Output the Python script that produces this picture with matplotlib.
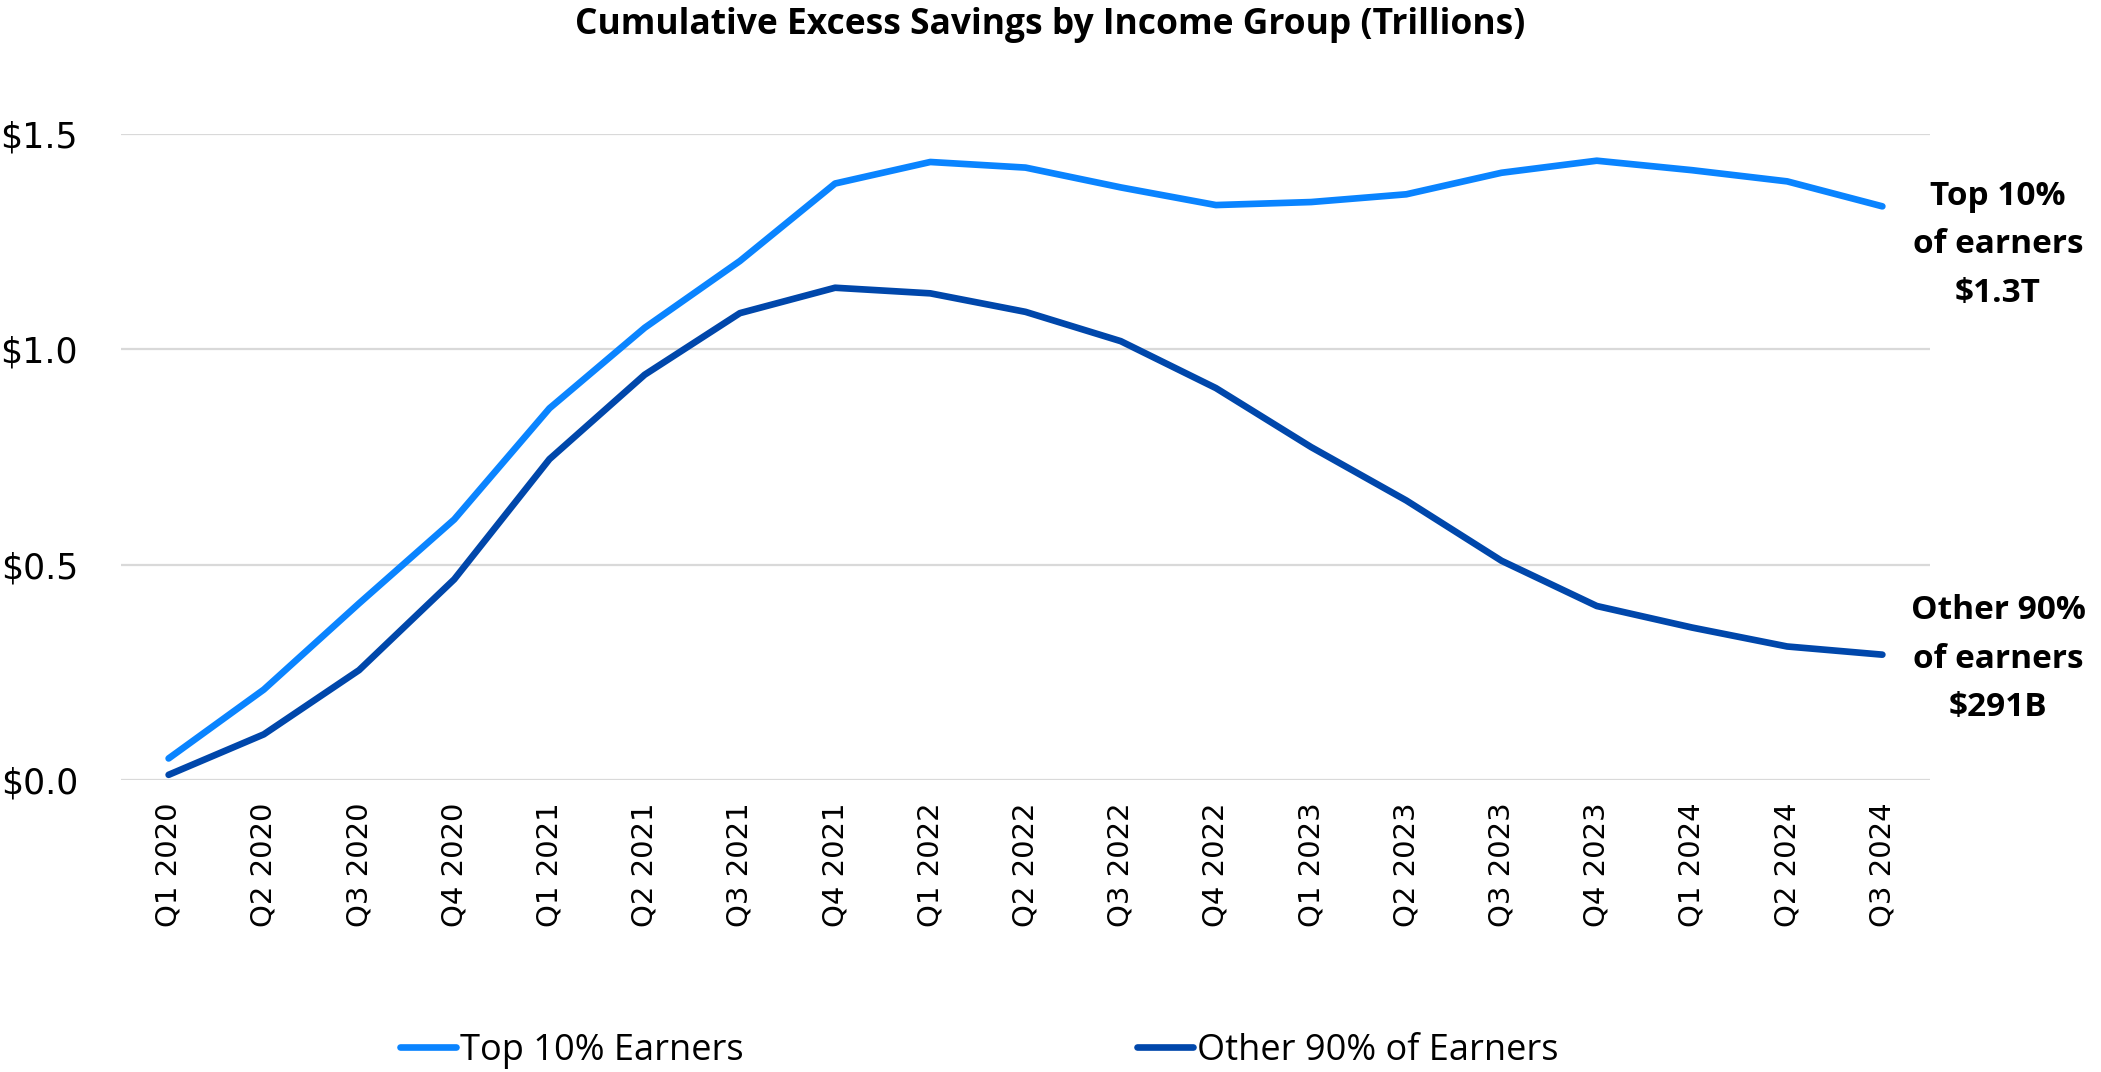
import matplotlib.pyplot as plt
import numpy as np

quarters = ['Q1 2020', 'Q2 2020', 'Q3 2020', 'Q4 2020',
            'Q1 2021', 'Q2 2021', 'Q3 2021', 'Q4 2021',
            'Q1 2022', 'Q2 2022', 'Q3 2022', 'Q4 2022',
            'Q1 2023', 'Q2 2023', 'Q3 2023', 'Q4 2023',
            'Q1 2024', 'Q2 2024', 'Q3 2024']

top10 = [0.05, 0.21, 0.41, 0.605, 0.863, 1.05, 1.205, 1.385, 1.435, 1.422,
         1.376, 1.335, 1.342, 1.36, 1.41, 1.438, 1.416, 1.39, 1.332]

other90 = [0.012, 0.106, 0.255, 0.466, 0.745, 0.941, 1.084, 1.143, 1.13, 1.087,
           1.019, 0.91, 0.773, 0.649, 0.509, 0.404, 0.354, 0.31, 0.291]

y_ticks = [0.0, 0.5, 1.0, 1.5]

color_top = '#0a84ff'
color_other = '#0047ab'

fig = plt.figure(figsize=(21.01, 10.72), dpi=100)
ax = fig.add_axes([0.0576, 0.2724, 0.861, 0.6026])

x = np.arange(len(quarters))
ax.plot(x, top10, color=color_top, linewidth=4.8, solid_capstyle='round',
        label='Top 10% Earners', zorder=3, clip_on=False)
ax.plot(x, other90, color=color_other, linewidth=4.8, solid_capstyle='round',
        label='Other 90% of Earners', zorder=3, clip_on=False)

ax.set_xlim(-0.5, len(quarters) - 0.5)
ax.set_ylim(0, 1.5)
ax.set_yticks(y_ticks)
ax.set_yticklabels(['${:.1f}'.format(v) for v in y_ticks])
ax.set_xticks(x)
ax.set_xticklabels(quarters, rotation=90)
ax.tick_params(axis='x', length=0, pad=16, labelsize=21)
ax.tick_params(axis='y', length=0, pad=31, labelsize=25)
ax.yaxis.grid(True, color='#d9d9d9', linewidth=1.6)
ax.set_axisbelow(True)
for s in ax.spines.values():
    s.set_visible(False)

fig.text(0.5, 0.977, 'Cumulative Excess Savings by Income Group (Trillions)',
         ha='center', va='center', fontsize=25.5, fontweight='bold',
         family=['Open Sans', 'DejaVu Sans'])

fig.text(0.951, 0.7715, 'Top 10%\nof earners\n$1.3T', ha='center', va='center',
         fontsize=24, fontweight='bold', linespacing=1.62,
         family=['Open Sans', 'DejaVu Sans'])
fig.text(0.951, 0.385, 'Other 90%\nof earners\n$291B', ha='center', va='center',
         fontsize=24, fontweight='bold', linespacing=1.62,
         family=['Open Sans', 'DejaVu Sans'])

fig.legend(loc='center', bbox_to_anchor=(0.466, 0.0196), ncol=2, frameon=False,
           handlelength=1.56, handletextpad=0.1, columnspacing=10.9,
           prop={'family': ['Open Sans', 'DejaVu Sans'], 'size': 26})

fig.savefig('out.png', dpi=100)
